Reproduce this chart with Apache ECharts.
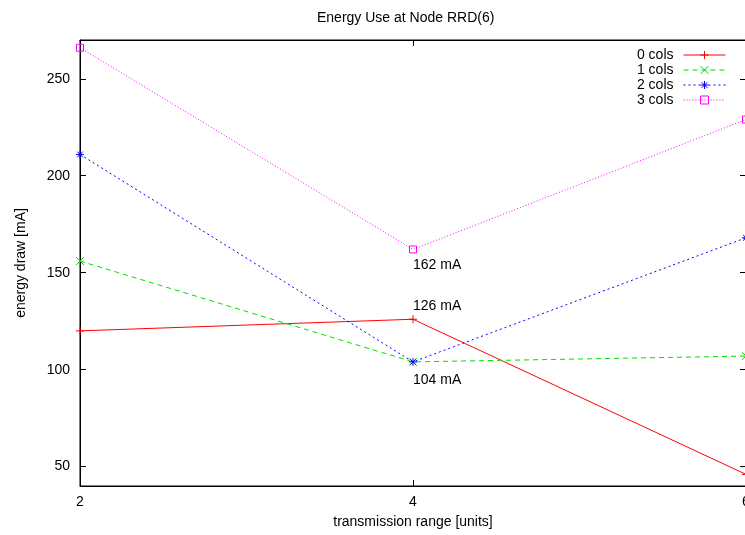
<!DOCTYPE html>
<html>
<head>
<meta charset="utf-8">
<script src="https://cdn.jsdelivr.net/npm/echarts@6/dist/echarts.min.js"></script>
<style>
  html, body { margin: 0; padding: 0; background: #fff; }
  #chart { width: 745px; height: 535px; }
</style>
</head>
<body>
<div id="chart"></div>
<script>
// transmission range (x) and energy draw per column count
const ranges = [2, 4, 6]
const cols0 = [120, 126, 46]
const cols1 = [156, 104, 107]
const cols2 = [211, 104, 168]
const cols3 = [266, 162, 229]
const seriesNames = ['0 cols', '1 cols', '2 cols', '3 cols']
const yTicks = [50, 100, 150, 200, 250]
const xTicks = [2, 4, 6]

const font = 'Liberation Sans, Arial, sans-serif'
const fs = 14

// gnuplot-like point markers
const plusPath = 'path://M0,5L10,5M5,0L5,10'
const crossPath = 'path://M0,0L10,10M10,0L0,10'
const starPath = 'path://M0,5L10,5M5,0L5,10M1.5,1.5L8.5,8.5M8.5,1.5L1.5,8.5'
const squarePath = 'path://M0,0L10,0L10,10L0,10Z'

function pts(vals) {
  return vals.map((v, i) => [ranges[i], v])
}

function tagged(vals, idx, pos, dist) {
  const data = pts(vals)
  data[idx] = {
    value: data[idx],
    label: {
      show: true,
      position: pos,
      distance: dist,
      align: 'left',
      formatter: (p) => p.value[1] + ' mA',
      color: '#000',
      fontFamily: font,
      fontSize: fs
    }
  }
  return data
}

function makeSeries(name, data, color, type, symbol, size) {
  return {
    name,
    type: 'line',
    data,
    symbol,
    symbolSize: size,
    showSymbol: true,
    z: 3,
    lineStyle: { color, width: 1, type },
    itemStyle: { color: 'transparent', borderColor: color, borderWidth: 1 },
    emphasis: { disabled: true }
  }
}

const chart = echarts.init(document.getElementById('chart'), null, { renderer: 'canvas' })

chart.setOption({
  animation: false,
  backgroundColor: '#fff',
  title: {
    text: 'Energy Use at Node RRD(6)',
    left: 317,
    top: 11,
    padding: 0,
    textStyle: { fontFamily: font, fontSize: fs, fontWeight: 'normal', color: '#000' }
  },
  legend: {
    orient: 'vertical',
    right: 14,
    top: 43,
    align: 'right',
    itemWidth: 42,
    itemHeight: 10,
    itemGap: 1,
    data: seriesNames,
    lineStyle: { width: 1 },
    itemStyle: { borderWidth: 1 },
    textStyle: { fontFamily: font, fontSize: fs, color: '#000', padding: [0, 5, 0, 0] }
  },
  grid: {
    left: 80,
    top: 40,
    width: 666,
    height: 446,
    outerBoundsMode: 'none',
    containLabel: false,
    show: true,
    borderColor: '#000',
    borderWidth: 1,
    backgroundColor: 'transparent'
  },
  xAxis: [
    {
      type: 'value',
      min: 2,
      max: 6,
      interval: 2,
      name: 'transmission range [units]',
      nameLocation: 'middle',
      nameGap: 29,
      nameTextStyle: { fontFamily: font, fontSize: fs, color: '#000' },
      axisLine: { show: true, lineStyle: { color: '#000', width: 1 } },
      axisTick: { show: true, inside: true, length: 6, lineStyle: { color: '#000' }, customValues: xTicks },
      axisLabel: { color: '#000', fontFamily: font, fontSize: fs, margin: 9, customValues: xTicks },
      splitLine: { show: false }
    },
    {
      type: 'value',
      position: 'top',
      min: 2,
      max: 6,
      interval: 2,
      axisLine: { show: true, lineStyle: { color: '#000', width: 1 } },
      axisTick: { show: true, inside: true, length: 6, lineStyle: { color: '#000' }, customValues: xTicks },
      axisLabel: { show: false },
      splitLine: { show: false }
    }
  ],
  yAxis: [
    {
      type: 'value',
      min: 40,
      max: 270,
      name: 'energy draw [mA]',
      nameLocation: 'middle',
      nameGap: 52,
      nameTextStyle: { fontFamily: font, fontSize: fs, color: '#000' },
      axisLine: { show: true, lineStyle: { color: '#000', width: 1 } },
      axisTick: { show: true, inside: true, length: 6, lineStyle: { color: '#000' }, customValues: yTicks },
      axisLabel: { color: '#000', fontFamily: font, fontSize: fs, margin: 10, customValues: yTicks },
      splitLine: { show: false }
    },
    {
      type: 'value',
      position: 'right',
      min: 40,
      max: 270,
      axisLine: { show: true, lineStyle: { color: '#000', width: 1 } },
      axisTick: { show: true, inside: true, length: 6, lineStyle: { color: '#000' }, customValues: yTicks },
      axisLabel: { show: false },
      splitLine: { show: false }
    }
  ],
  series: [
    makeSeries('0 cols', tagged(cols0, 1, 'top', 2), '#ff0000', 'solid', plusPath, 8),
    makeSeries('1 cols', pts(cols1), '#00dd00', [5, 4], crossPath, 8),
    makeSeries('2 cols', tagged(cols2, 1, 'bottom', 7), '#0000ff', [2, 3], starPath, 8),
    makeSeries('3 cols', tagged(cols3, 1, 'bottom', 5), '#ff00ff', [1, 2], squarePath, 7)
  ]
})
</script>
</body>
</html>
